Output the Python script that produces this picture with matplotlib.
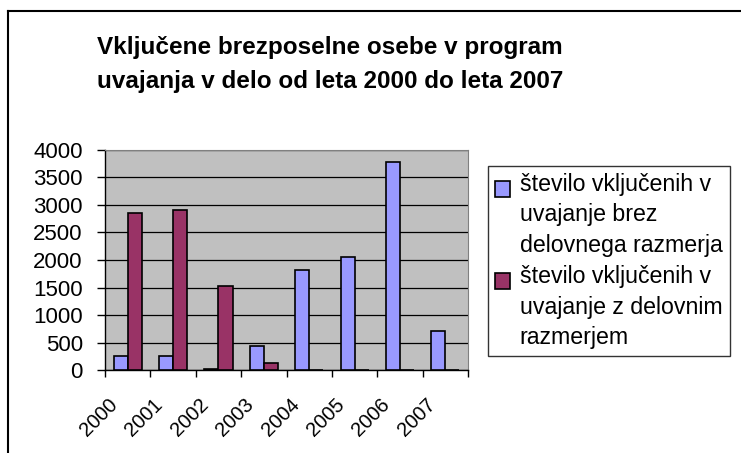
import numpy as np
import matplotlib
matplotlib.use('Agg')
import matplotlib.pyplot as plt
from matplotlib.lines import Line2D
from matplotlib.patches import Rectangle
from matplotlib.container import BarContainer
from matplotlib.legend_handler import HandlerPatch, update_from_first_child
from matplotlib.transforms import ScaledTranslation

plt.rcParams['font.family'] = ['Liberation Sans', 'DejaVu Sans']

# ── Data ──────────────────────────────────────────────────────────────────────
years = ['2000', '2001', '2002', '2003', '2004', '2005', '2006', '2007']
brez_razmerja = [250, 250, 25, 440, 1825, 2050, 3775, 705]
z_razmerjem = [2850, 2910, 1530, 125, 0, 0, 0, 0]
labels = ['število vključenih v\nuvajanje brez\ndelovnega razmerja',
          'število vključenih v\nuvajanje z delovnim\nrazmerjem']
title = 'Vključene brezposelne osebe v program\nuvajanja v delo od leta 2000 do leta 2007'
yticks = [0, 500, 1000, 1500, 2000, 2500, 3000, 3500, 4000]

# ── Figure ────────────────────────────────────────────────────────────────────
fig = plt.figure(figsize=(7.41, 4.53), dpi=100)
ax = fig.add_axes([0.1417, 0.1832, 0.4899, 0.4857])

x = np.arange(len(years))
w = 0.31
ax.bar(x - w/2, brez_razmerja, w, color='#9999FF', edgecolor='black', lw=1.2,
       label=labels[0], zorder=3)
ax.bar(x + w/2, z_razmerjem, w, color='#993366', edgecolor='black', lw=1.2,
       label=labels[1], zorder=3)

ax.set_facecolor('#C0C0C0')
ax.set_xlim(-0.5, len(years) - 0.5)
ax.set_ylim(0, 4000)
ax.set_yticks(yticks)
ax.yaxis.grid(True, color='black', lw=0.9, zorder=1)
ax.set_axisbelow(True)
ax.tick_params(axis='y', labelsize=16, length=6, width=1, direction='out', pad=10)

ax.set_xticks(np.arange(len(years) + 1) - 0.5)
ax.set_xticklabels([])
ax.set_xticks(x, minor=True)
ax.set_xticklabels(years, minor=True, rotation=45, ha='right', va='center',
                   rotation_mode='anchor', fontsize=14.5)
ax.tick_params(axis='x', which='major', length=5, width=1)
ax.tick_params(axis='x', which='minor', length=0, pad=23)
shift = ScaledTranslation(-0.13, 0, fig.dpi_scale_trans)
for lab in ax.get_xticklabels(minor=True):
    lab.set_transform(lab.get_transform() + shift)

for s in ['top', 'right']:
    ax.spines[s].set_color('#808080')
for s in ['left', 'bottom']:
    ax.spines[s].set_color('black')
    ax.spines[s].set_linewidth(1)

fig.text(0.445, 0.857, title, ha='center', va='center', fontsize=17.5,
         fontweight='bold', linespacing=1.62, multialignment='center')


# legend square next to the first line of each entry
def top_square(legend, orig_handle, xdescent, ydescent, width, height, fontsize):
    return Rectangle((-xdescent, -ydescent + 1.15 * fontsize), width, height)


leg = fig.legend(loc='upper left', bbox_to_anchor=(0.6586, 0.6336), fontsize=16.7,
                 frameon=True, fancybox=False, edgecolor='black',
                 handlelength=0.65, handleheight=0.65, handletextpad=0.42,
                 labelspacing=0.34, borderpad=0.3, borderaxespad=0,
                 handler_map={BarContainer: HandlerPatch(
                     patch_func=top_square, update_func=update_from_first_child)})
leg.get_frame().set_linewidth(1)
for t in leg.get_texts():
    t.set_linespacing(1.42)

# outer chart border (left and top visible)
fig.add_artist(Line2D([0.011, 0.011], [0, 0.976], color='black', lw=1.5,
                      transform=fig.transFigure))
fig.add_artist(Line2D([0.011, 1.0], [0.976, 0.976], color='black', lw=1.5,
                      transform=fig.transFigure))

fig.savefig('out.png', dpi=100)
